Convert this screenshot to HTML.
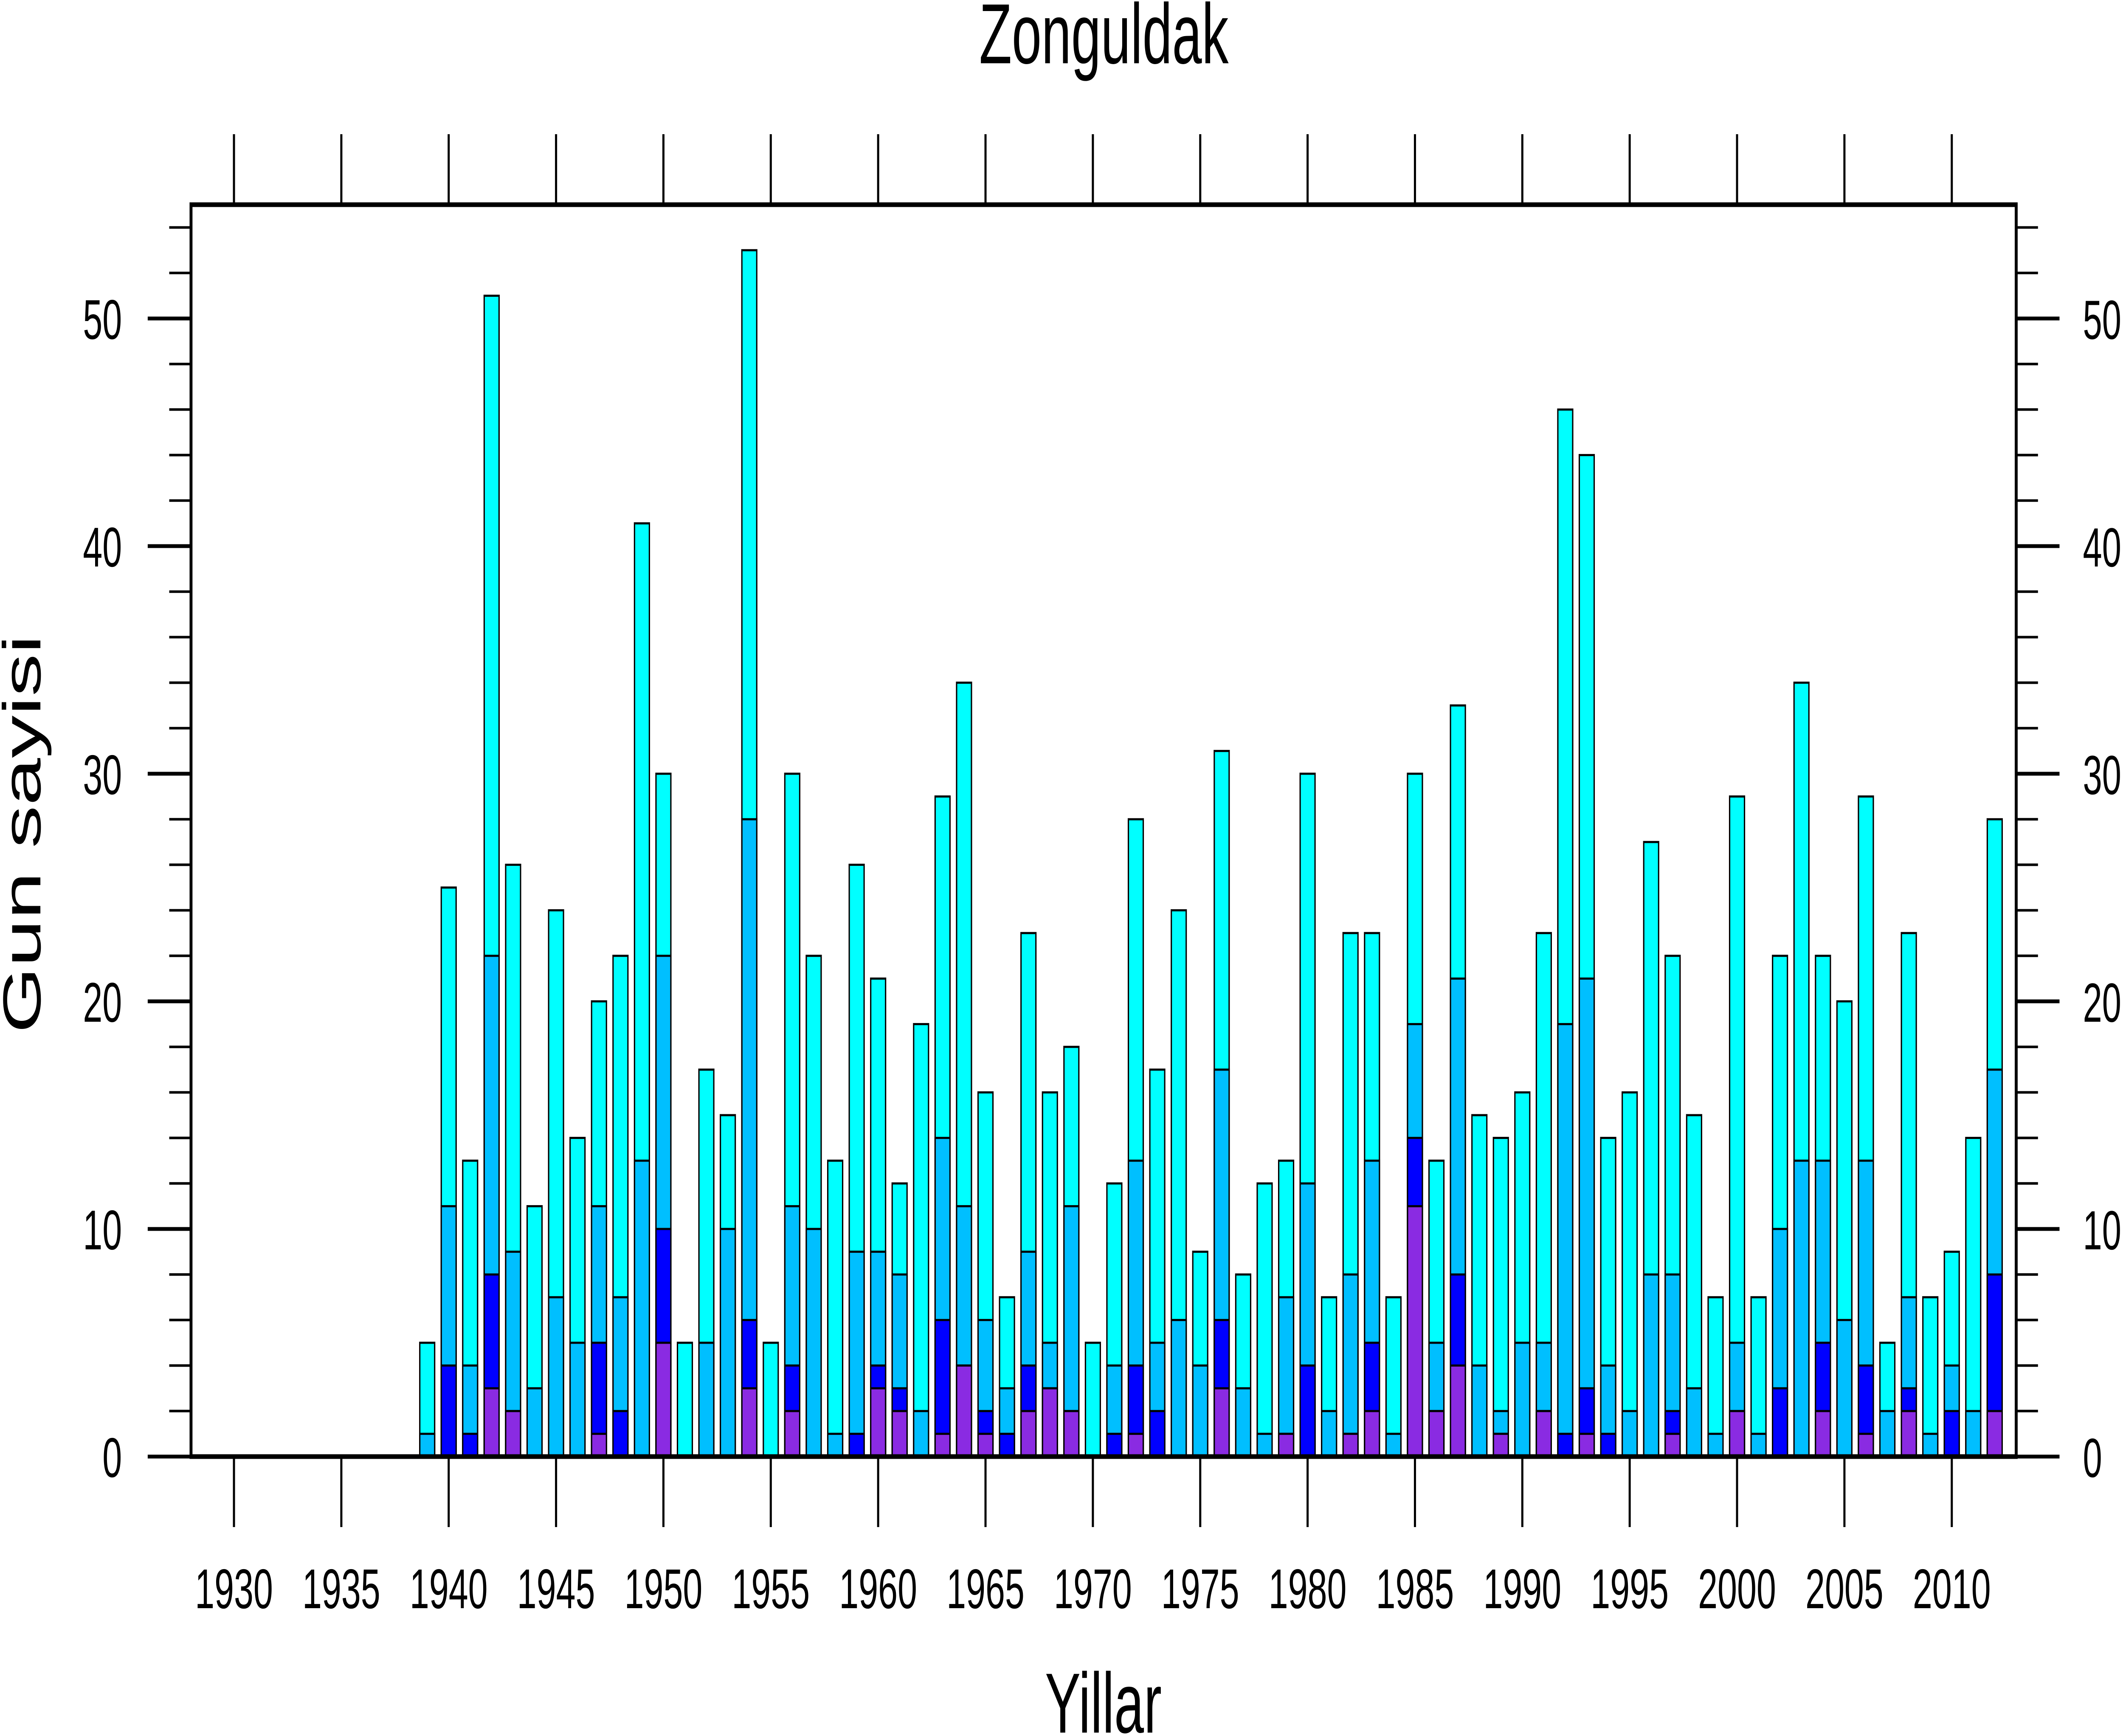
<!DOCTYPE html>
<html><head><meta charset="utf-8"><style>
html,body{margin:0;padding:0;background:#fff;width:100vw;height:100vh;overflow:hidden;}
svg{display:block;width:100vw;height:100vh;}
</style></head><body>
<svg id="s" xmlns="http://www.w3.org/2000/svg" width="100%" height="100%" viewBox="0 0 7991 4088" preserveAspectRatio="none" font-family="'Liberation Sans', sans-serif">
<rect x="0" y="0" width="7991" height="4088" fill="#fff"/>
<g id="bars"></g>
<g id="axes"></g>
<text x="4155" y="149" font-size="201" text-anchor="middle">Zonguldak</text>
<text x="4153" y="4080" font-size="201" text-anchor="middle">Yillar</text>
<text transform="translate(152,1964) rotate(-90)" font-size="201" text-anchor="middle">Gun sayisi</text>
</svg>
<script>
const L=719,R=7589,T=482,B=3430;
const x0=1928,px=(R-L)/85;
const uy=(B-T)/55;
const X=y=>L+(y-x0)*px, Y=v=>B-v*uy;
const d={1939:[5,1,0,0],1940:[25,11,4,0],1941:[13,4,1,0],1942:[51,22,8,3],1943:[26,9,2,2],1944:[11,3,0,0],1945:[24,7,0,0],1946:[14,5,0,0],1947:[20,11,5,1],1948:[22,7,2,0],1949:[41,13,0,0],1950:[30,22,10,5],1951:[5,0,0,0],1952:[17,5,0,0],1953:[15,10,0,0],1954:[53,28,6,3],1955:[5,0,0,0],1956:[30,11,4,2],1957:[22,10,0,0],1958:[13,1,0,0],1959:[26,9,1,0],1960:[21,9,4,3],1961:[12,8,3,2],1962:[19,2,0,0],1963:[29,14,6,1],1964:[34,11,4,4],1965:[16,6,2,1],1966:[7,3,1,0],1967:[23,9,4,2],1968:[16,5,3,3],1969:[18,11,2,2],1970:[5,0,0,0],1971:[12,4,1,0],1972:[28,13,4,1],1973:[17,5,2,0],1974:[24,6,0,0],1975:[9,4,0,0],1976:[31,17,6,3],1977:[8,3,0,0],1978:[12,1,0,0],1979:[13,7,1,1],1980:[30,12,4,0],1981:[7,2,0,0],1982:[23,8,1,1],1983:[23,13,5,2],1984:[7,1,0,0],1985:[30,19,14,11],1986:[13,5,2,2],1987:[33,21,8,4],1988:[15,4,0,0],1989:[14,2,1,1],1990:[16,5,0,0],1991:[23,5,2,2],1992:[46,19,1,0],1993:[44,21,3,1],1994:[14,4,1,0],1995:[16,2,0,0],1996:[27,8,0,0],1997:[22,8,2,1],1998:[15,3,0,0],1999:[7,1,0,0],2000:[29,5,2,2],2001:[7,1,0,0],2002:[22,10,3,0],2003:[34,13,0,0],2004:[22,13,5,2],2005:[20,6,0,0],2006:[29,13,4,1],2007:[5,2,0,0],2008:[23,7,3,2],2009:[7,1,0,0],2010:[9,4,2,0],2011:[14,2,0,0],2012:[28,17,8,2]};
const cols=["#00FFFF","#00BFFF","#0000FF","#8A2BE2"];
let h="";
const w=56;
for(const yr in d){const cx=X(+yr);d[yr].forEach((v,i)=>{if(v>0){h+=`<rect x="${cx-w/2}" y="${Y(v)}" width="${w}" height="${v*uy}" fill="${cols[i]}" stroke="#000" stroke-width="5"/>`;}});}
document.getElementById("bars").innerHTML=h;
let a=`<rect x="${L}" y="${T}" width="${R-L}" height="${B-T}" fill="none" stroke="#000" stroke-width="11"/>`;
for(let v=0;v<=54;v+=2){const y=Y(v),maj=v%10==0;const len=maj?163:82,sw=maj?9:6;
a+=`<line x1="${L-len}" y1="${y}" x2="${L}" y2="${y}" stroke="#000" stroke-width="${sw}"/>`;
a+=`<line x1="${R}" y1="${y}" x2="${R+len}" y2="${y}" stroke="#000" stroke-width="${sw}"/>`;
if(maj){a+=`<text x="459" y="${y+48}" font-size="132" text-anchor="end">${v}</text>`;
a+=`<text x="7840" y="${y+48}" font-size="130">${v}</text>`;}}
for(let yr=1930;yr<=2010;yr+=5){const x=X(yr);
a+=`<line x1="${x}" y1="${B}" x2="${x}" y2="${B+166}" stroke="#000" stroke-width="8"/>`;
a+=`<line x1="${x}" y1="${T-166}" x2="${x}" y2="${T}" stroke="#000" stroke-width="8"/>`;
a+=`<text x="${x}" y="3787" font-size="132" text-anchor="middle">${yr}</text>`;}
document.getElementById("axes").innerHTML=a;
</script>
</body></html>
